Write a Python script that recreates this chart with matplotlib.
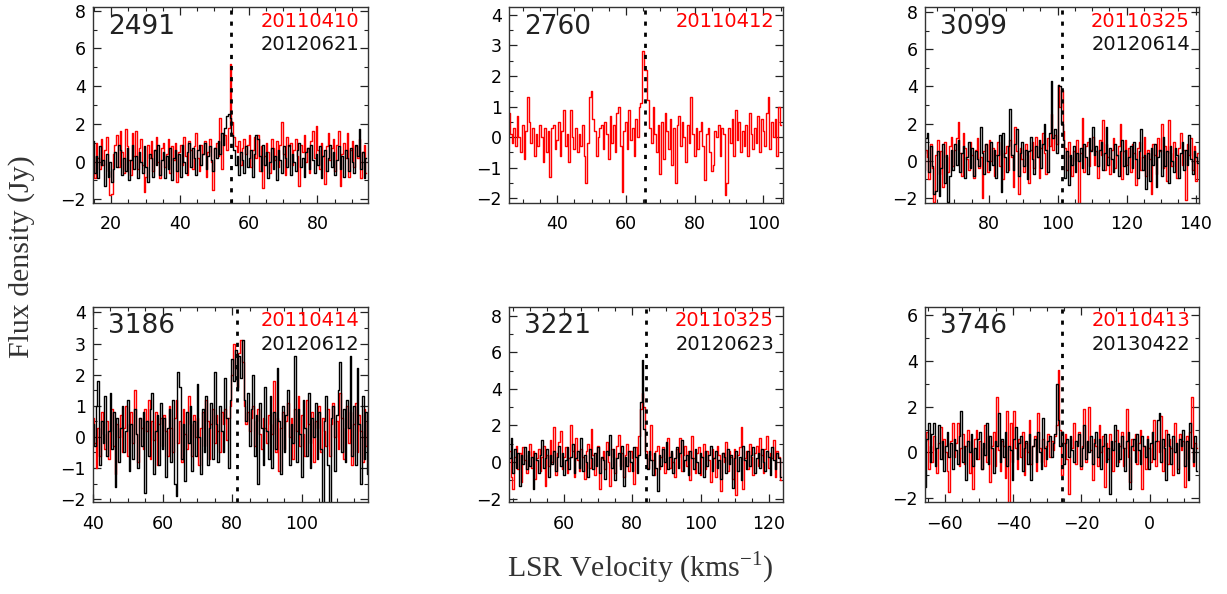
import numpy as np
import matplotlib
matplotlib.use("Agg")
import matplotlib.pyplot as plt
from matplotlib.ticker import MultipleLocator

# ---------------- data ----------------
names = ["2491", "2760", "3099", "3186", "3221", "3746"]
dates_red = ["20110410", "20110412", "20110325", "20110414", "20110325", "20110413"]
dates_black = ["20120621", None, "20120614", "20120612", "20120623", "20130422"]
v_start = [14.7, 25.5, 61.2, 40.0, 44.0, -65.7]
v_step = 0.5
v_peak = [54.7, 65.5, 101.2, 81.5, 84.1, -25.7]
xlims = [(14.7, 94.7), (26.0, 105.7), (61.5, 141.0), (40.0, 119.0), (43.8, 124.2), (-65.8, 14.4)]
ylims = [(-2.2, 8.2), (-2.15, 4.25), (-2.27, 8.27), (-2.1, 4.19), (-2.2, 8.5), (-2.17, 6.36)]
ymajor = [2, 1, 2, 1, 2, 2]

red1 = [0.3, -0.9, 1.0, 0.2, -0.4, 1.2, -0.2, 0.6, 1.3, -0.5,
        -1.8, -1.7, 0.4, 0.9, 1.4, -0.3, 1.6, 0.5, -0.6, 1.7,
        0.8, 0.1, -0.7, 1.5, 0.3, 1.6, -0.4, 0.7, 1.2, -0.2,
        -1.6, -0.8, 0.9, 0.2, 1.1, -0.5, 0.6, 1.3, 0.0, -0.9,
        0.7, 1.0, -0.3, 0.4, 1.2, -0.6, 0.8, 0.1, 1.0, -1.1,
        0.5, 0.9, -0.2, 1.3, 0.3, -0.7, 1.1, 0.6, -0.4, 0.8,
        1.5, 0.2, -0.5, 0.9, 0.4, 1.1, -0.8, 0.5, 1.2, 0.0,
        -1.5, 0.7, 1.0, 0.3, 2.3, -0.4, 0.9, 1.4, 0.6, 1.8,
        5.2, 2.1, 1.3, 0.8, 0.5, 1.1, -0.2, 0.7, 1.2, 0.4,
        0.9, 1.4, -0.3, 0.6, 1.3, 0.2, 1.4, -0.5, 0.8, -1.4,
        0.3, 1.0, 0.5, -0.6, 1.2, 0.7, 0.1, 1.1, -0.3, 0.9,
        2.1, 0.4, -0.7, 1.3, 0.8, 1.0, -0.2, 0.6, 1.2, 0.3,
        -1.3, 0.9, 0.5, 1.4, 0.0, 0.7, -0.6, 1.1, 1.6, 0.2,
        1.9, 0.6, -0.4, 1.0, 0.3, -1.2, 0.8, 1.5, 0.1, 0.7,
        1.2, -0.5, 0.9, 1.6, -1.3, 0.4, 1.0, 0.2, 1.5, -0.8,
        0.6, 1.1, -0.3, 0.8, 0.2, 1.2, -0.9, 0.5, 0.9, -0.6]
black1 = [1.1, -0.6, 0.3, -0.9, 0.8, -0.2, 0.1, -1.3, 0.4, -0.8,
          0.0, -1.1, -0.4, 0.5, -0.3, 0.9, 0.6, -0.7, 0.2, -0.5,
          0.7, -1.0, 0.1, 0.9, -0.4, 0.3, -0.9, 0.5, 0.0, -0.6,
          0.8, -0.3, -1.1, 0.4, 0.2, -0.8, 0.6, -0.2, 0.9, -0.7,
          0.1, 0.5, -0.9, 0.3, -0.4, 0.7, -1.0, 0.2, 0.6, -0.5,
          0.4, -0.8, 0.9, 0.0, -0.6, 0.5, 1.0, -0.3, 0.7, 0.2,
          -0.7, 0.6, 0.9, -0.2, 0.4, 1.0, -0.4, 0.3, 0.8, 0.1,
          -0.5, 0.7, 0.2, 1.1, 0.4, 1.5, 0.9, 1.8, 2.4, 2.5,
          2.3, 1.4, 0.6, -0.2, 0.3, -0.7, 0.5, 0.1, -0.6, 0.8,
          -0.3, 0.2, 0.6, -0.8, 0.4, 1.4, 1.2, 0.3, -0.5, 0.9,
          -0.2, 0.5, -0.9, 0.0, 0.7, -0.4, 0.3, -1.0, 0.6, 0.1,
          -0.6, 0.8, 0.2, -0.3, 0.9, -0.7, 0.4, 0.0, -0.5, 0.6,
          1.0, -0.3, 0.2, -0.8, 0.5, 0.7, -0.4, 0.9, 0.1, -0.6,
          0.4, -0.2, 0.8, -0.9, 0.3, 0.6, -0.5, 0.2, 0.9, -0.3,
          0.5, -0.7, 0.1, 0.8, -0.4, 0.3, -0.8, 0.6, 0.2, -0.5,
          0.7, 0.0, -0.6, 0.9, 0.3, 1.7, -0.4, 0.5, -0.9, 0.2]

red2 = [-0.4, 0.8, 0.1, -0.2, 0.3, -0.3, 0.7, 0.0, -0.5, 0.4,
        -0.7, 0.2, 1.3, 0.5, -0.2, 0.3, -0.6, 0.1, -0.3, 0.4,
        0.0, -0.8, 0.3, -0.5, 0.2, -1.3, 0.3, 0.4, -0.4, -0.1,
        0.5, -0.6, 0.2, 0.9, -0.3, 0.1, -0.8, 0.9, 0.0, -0.4,
        0.3, -0.5, 0.1, -0.3, 0.4, -0.6, -1.5, -0.2, 1.3, 1.5,
        0.6, 0.2, -0.6, 0.0, 0.3, 0.4, -0.4, 0.5, 0.1, -0.7,
        0.7, -0.2, 0.4, -0.5, 0.8, 1.0, -0.3, -1.8, 0.2, 0.5,
        -0.4, 0.9, -0.1, 0.3, -0.6, 0.6, 0.0, 1.0, 1.1, 2.8,
        2.2, 2.2, 1.2, 0.3, -0.2, 1.0, 0.1, -0.5, 0.4, -1.2,
        0.5, -0.7, 0.8, 0.2, -0.4, 0.6, -0.9, 0.3, -1.5, 0.4,
        0.7, -0.3, 0.5, 0.0, -0.8, 0.4, -0.2, 1.3, 0.1, -0.6,
        0.3, -0.4, 0.2, 0.5, -0.3, -1.4, 0.1, 0.3, -0.5, -1.1,
        -0.9, 0.2, 0.0, 0.4, -0.6, 0.3, 0.1, -1.9, -1.5, 0.3,
        -0.2, 0.6, -0.6, 0.9, -0.1, 0.5, -0.5, 0.2, -0.3, 0.4,
        -0.6, 0.8, 0.1, -0.4, 0.3, -0.2, 0.7, -0.5, 0.6, 0.2,
        -0.3, 0.8, 1.3, -0.4, 0.5, 0.0, 0.6, -0.6, 1.0, 0.4]
black2 = None

red3 = [-0.5, 0.6, 0.2, -1.0, 0.9, -0.4, -2.2, 0.3, 1.1, -0.7,
        0.5, -1.4, 1.0, 0.2, -0.6, 0.8, 1.3, -0.3, 0.6, 1.2,
        2.1, 0.4, -0.8, 1.5, 0.7, 0.1, -0.5, 1.0, 0.3, -0.9,
        0.6, 1.2, -0.4, 0.2, -2.0, 0.5, 0.9, -0.6, 1.1, 0.0,
        0.7, -0.8, 0.3, 1.0, -0.3, 0.6, -1.0, 0.4, 0.8, -0.5,
        1.1, 0.2, -1.4, 1.8, 0.5, -1.8, 0.7, 0.1, -0.6, 0.9,
        0.3, -1.2, 0.6, 1.0, -0.4, 1.3, 0.2, -0.9, 0.7, 1.5,
        0.4, -0.7, 1.2, 0.8, 2.5, 0.6, 1.4, 0.9, 4.1, 2.9,
        3.8, 1.6, 0.7, -0.5, 1.0, 0.2, -0.8, 0.5, 0.0, 1.1,
        -2.3, 0.4, 2.3, -0.6, 0.8, 1.0, -0.3, 0.6, 1.3, -0.2,
        0.5, -0.9, 1.1, 0.3, 2.2, -0.5, 0.9, 0.2, -0.7, 0.6,
        1.2, -0.4, 0.3, 0.8, 2.0, -1.0, 0.5, 1.1, -0.2, 0.7,
        -0.6, 0.9, 0.4, -1.3, 0.7, 1.0, -0.5, 0.2, 1.3, -0.8,
        0.6, 0.1, -1.8, 0.9, 0.3, -0.7, 1.2, 0.5, 2.0, -0.4,
        0.8, -1.1, 2.2, 0.4, -0.3, 1.0, 0.2, -0.9, 0.7, 1.5,
        -0.2, 0.6, -2.1, 0.9, 0.3, 1.2, -0.5, 0.8, -1.1, 0.4]
black3 = [0.4, 1.2, 1.5, -0.6, 0.8, -0.3, -1.8, -1.6, 0.5, -1.9,
          -0.4, 0.9, -1.2, 0.3, -2.2, -0.8, 0.6, -0.5, 0.9, -0.2,
          1.1, -0.6, 0.4, 0.8, -0.9, 0.2, 1.0, -0.4, 0.7, -0.8,
          0.5, 0.1, -0.3, 1.8, 0.4, -0.7, 0.9, 0.0, -0.5, 1.0,
          -0.2, 0.6, -0.9, 0.3, 1.4, -1.7, 1.5, 0.2, -0.6, 0.8,
          2.8, 0.3, -0.5, 0.9, 1.7, -0.8, 0.4, 1.0, -0.3, 0.6,
          -1.0, 0.5, 1.3, 0.1, -0.7, 0.8, 0.2, 1.1, -0.4, 0.9,
          2.0, 0.6, -0.6, 1.5, 4.3, 1.2, 1.7, 0.4, 4.1, 4.0,
          2.0, 1.1, -0.9, 0.5, -1.3, 0.3, -0.2, 0.8, -0.6, 0.4,
          0.0, 0.7, -0.4, 0.9, 0.2, -0.7, 1.2, 0.5, 1.8, 0.3,
          0.8, -0.3, 0.6, 1.0, -0.5, 0.4, 1.8, -0.2, 0.7, 0.1,
          -0.6, 0.9, 0.3, -0.8, 0.5, 1.1, -0.3, 0.6, -0.7, 0.2,
          0.8, -0.4, 1.0, 0.1, -0.9, 0.5, 1.7, -0.5, 0.3, -1.5,
          0.4, -1.1, 0.7, -0.2, 0.9, -1.4, 0.2, 0.6, -0.8, 1.3,
          -0.3, 0.5, -1.2, 0.8, 0.0, -0.6, 0.7, 0.3, -0.9, 0.4,
          1.0, -0.5, 0.6, -0.2, 1.4, 0.1, -0.7, 0.5, 0.2, -0.1]

red4 = [0.6, -0.2, -1.0, 0.3, -0.6, 0.8, 0.1, -0.4, 0.5, -0.7,
        0.2, 0.9, -0.3, -1.2, 0.4, 0.0, 0.7, -0.5, 0.3, 1.0,
        -0.6, 0.4, 0.8, -0.2, 1.5, 0.1, -0.8, 0.6, 0.3, -0.4,
        0.9, 0.2, 1.2, -0.7, 0.5, -0.1, 0.8, -0.9, 0.4, 0.6,
        -0.3, 0.7, 0.2, -0.6, 1.0, 0.3, -0.5, 0.6, 1.2, -0.2,
        0.5, -0.8, 0.9, 0.1, -0.4, 1.3, 0.4, -0.6, 0.7, 0.0,
        0.6, -0.9, 0.3, 0.8, -0.3, 1.2, 0.5, -0.7, 0.4, 0.9,
        -0.2, 0.7, 0.2, -0.5, 0.8, 0.4, 0.9, -0.1, 0.6, 1.0,
        2.0, 3.0, 2.2, 1.6, 2.7, 3.1, 2.4, 1.0, 0.4, 0.8,
        0.2, 0.6, 1.0, -0.3, 0.5, 0.9, 0.1, -0.4, 0.6, 0.3,
        -0.2, 0.7, 0.4, 0.1, 1.8, -0.5, 0.6, -1.1, 0.3, 0.8,
        -0.4, 0.5, 1.1, 0.0, 0.6, -0.7, 0.9, 0.2, 1.3, -0.3,
        0.7, 0.1, -0.6, 1.2, 0.4, -0.2, 0.8, -0.8, 0.5, 0.3,
        1.0, -0.5, 0.6, 0.2, -0.3, 0.9, -0.6, 0.4, 1.1, 0.0,
        0.5, -0.4, 1.4, 0.6, -0.7, 0.3, 1.0, -0.2, 0.8, -0.9,
        0.4, 1.1, -0.5, 0.7, 0.2, -0.8, 0.9, -0.3, 0.5, -1.3]
black4 = [0.4, -0.3, 1.0, 1.8, -0.9, 0.5, -0.2, 1.3, -0.6, 0.2,
          1.4, -0.4, 0.8, -1.6, 0.6, -0.8, 0.3, 1.0, -0.5, 0.2,
          1.2, -1.1, 0.4, -0.7, 0.9, 0.1, -1.0, 0.6, -0.3, 0.8,
          -1.8, 0.5, -0.6, 0.9, 1.4, -1.2, 0.2, 0.7, -0.9, 1.1,
          -0.4, 0.6, -1.3, 0.3, 0.9, -0.8, 1.2, -1.5, -1.9, 2.1,
          1.6, -0.7, 0.4, -1.4, 0.8, -0.2, 1.0, -1.1, 0.5, -0.6,
          1.7, 0.0, -1.2, 0.9, -0.5, 1.3, -0.9, 0.3, 1.1, -0.7,
          2.1, 0.4, -0.8, 1.0, 0.2, -0.5, 1.9, 0.6, -1.0, 1.2,
          2.5, 1.8, 2.8, 1.5, 2.6, 1.9, 3.1, 1.2, 0.5, 1.4,
          -0.3, 0.9, 2.0, -0.6, 0.7, -1.5, 1.1, 0.3, -0.9, 1.6,
          0.2, -0.7, 1.3, -1.0, 0.8, -0.4, 2.2, 0.5, -1.2, 1.0,
          -0.5, 0.7, 1.5, -0.9, 0.4, -0.2, 2.6, -0.8, 0.9, 0.1,
          -1.3, 1.2, 0.3, -0.6, 1.4, -1.0, 0.6, 0.0, 1.1, -0.7,
          0.8, -0.4, -2.2, 0.5, 1.3, -0.9, -2.2, 0.6, 1.0, -1.1,
          0.7, 1.5, 2.4, -0.5, 0.9, -0.8, 1.2, 0.3, 2.6, -0.6,
          1.0, -0.9, 2.2, 0.4, -1.5, 1.3, -0.7, 0.8, -1.2, 0.9]

red5 = [0.6, -0.8, -1.5, 0.3, 0.9, -0.4, 0.5, -1.1, 0.8, 0.1,
        -0.6, 0.4, 1.0, -0.3, 0.6, -0.9, 0.2, 0.7, -0.5, 0.3,
        0.9, -1.3, 0.4, -0.2, 1.2, 0.0, 1.9, -0.7, 0.5, 1.1,
        1.7, -0.4, 0.3, 0.8, -0.6, 0.2, 2.0, 0.6, -0.8, 1.3,
        0.1, -0.5, 0.7, 0.3, -0.9, 0.6, 1.0, -0.3, 1.8, 0.4,
        -0.7, 0.5, 0.9, -1.5, 0.2, 0.6, -0.4, 1.1, 0.0, -1.3,
        0.7, 0.3, -0.6, 0.9, 1.5, -0.2, 0.5, -0.8, 0.4, 1.0,
        -0.5, 0.6, 0.2, -1.2, 0.8, 0.3, 1.4, 2.9, 3.8, 3.0,
        0.6, -0.3, 0.4, 2.0, 0.1, -0.7, 0.6, 0.9, -0.4, 0.3,
        0.8, -0.6, 0.2, 1.3, -0.3, 0.5, 0.0, -0.8, 0.7, 0.3,
        1.3, -0.5, 0.4, 0.9, -0.2, 0.6, -1.0, 1.4, 0.2, -0.6,
        0.5, 0.8, -0.7, 0.3, 1.0, -0.4, 0.6, 0.1, -1.1, 0.7,
        0.2, -0.8, 0.9, 0.4, -1.6, 0.5, 0.0, 1.1, -0.5, 0.6,
        0.3, -0.9, 0.7, -1.8, 0.4, 0.8, 1.9, -1.5, 0.2, 0.6,
        -0.4, 1.0, 0.3, -0.7, 0.5, 0.9, -0.2, 1.3, 0.4, -0.6,
        0.7, 1.4, -0.3, 0.5, 0.2, 1.2, -0.8, 0.6, 0.3, -1.0]
black5 = [0.2, 1.3, -0.6, 0.7, -0.3, 0.5, -1.3, 0.4, -0.1, 0.8,
          -0.4, 0.6, -0.2, 0.3, -1.5, 0.5, 0.1, -0.6, 0.4, 1.2,
          -0.3, 0.2, 0.7, -0.8, 0.4, -0.1, 0.6, -0.5, 0.3, 0.9,
          -0.2, 0.5, -0.7, 0.1, 0.8, -0.4, 0.3, 1.0, -0.6, 0.2,
          0.6, -0.3, 1.3, -0.5, 0.4, 0.0, -0.8, 0.7, 0.2, -0.4,
          0.5, -0.2, 0.8, -0.6, 0.3, 0.1, -0.9, 0.6, 0.4, 1.5,
          -0.3, 0.7, -1.0, 0.2, 0.5, -0.4, 0.9, -1.3, 0.3, -0.2,
          0.6, 0.0, -0.5, 0.8, 0.3, -0.6, 0.4, 3.3, 5.6, 1.8,
          0.2, -0.4, 0.6, 0.1, -0.7, 0.5, -0.3, -1.6, 0.4, -0.2,
          0.7, 0.0, 1.1, -0.4, 0.3, 0.6, -0.6, 0.2, 0.8, -0.3,
          0.5, 1.2, -0.5, 0.1, 0.4, -0.7, 0.6, 0.2, -0.4, 0.7,
          0.0, -0.6, 0.5, 0.3, -0.8, 0.6, -0.2, 0.4, 0.9, -0.5,
          0.2, 0.6, -0.3, 0.1, -0.9, 0.5, 0.3, -0.6, 0.7, -0.1,
          0.4, -1.4, 0.2, 0.6, -0.5, 0.3, -1.0, 0.9, 0.1, -0.4,
          0.6, -0.2, 0.4, 0.8, -0.6, 0.2, 0.5, -0.3, 0.7, 0.0,
          -0.5, 0.6, 0.3, -0.7, 0.8, 0.1, -0.4, 0.5, 0.2, -0.8]

red6 = [0.5, 0.9, -0.7, 0.3, -0.4, 0.7, 0.1, -0.9, 0.4, 1.1,
        -0.3, 0.6, 0.0, -0.8, -1.7, 0.5, 1.3, -0.2, 0.4, 1.3,
        -0.6, 0.2, 0.8, -0.5, 0.3, 1.0, -0.9, 0.1, -1.6, 0.6,
        1.0, -0.3, 0.5, -0.7, 0.2, 1.2, -0.4, 0.7, -1.3, 0.3,
        0.9, -0.6, 2.4, 0.1, -0.8, 0.5, 0.3, -1.1, 1.8, -2.2,
        1.3, -0.4, 1.8, 0.2, -0.7, 0.6, -0.2, 0.9, -1.0, 0.4,
        0.0, 1.4, -0.5, 0.3, 0.7, -0.8, 1.7, 0.2, -0.4, 0.6,
        -0.6, 0.3, 0.8, -0.2, 0.5, 0.1, 0.7, 1.2, 3.6, 1.0,
        -1.0, 0.4, 0.8, -0.3, -1.8, 0.6, 0.2, 1.3, -0.5, 0.4,
        0.9, -0.7, 0.3, 1.9, -0.4, 0.5, 2.0, 0.1, -1.2, 0.6,
        0.3, -0.6, 1.2, 0.0, 0.7, -1.5, 0.4, -0.3, 0.8, 0.2,
        -0.8, 0.5, 1.0, -0.4, 0.3, 0.9, -0.6, 0.2, 1.9, -0.2,
        -1.3, 0.6, 0.1, 0.8, -0.5, 0.4, 1.0, -1.6, 0.3, -0.7,
        0.7, 0.2, -0.4, 0.9, 1.4, -0.6, 0.5, 0.0, 1.6, -0.8,
        0.3, 1.0, -0.5, 0.6, 0.2, -1.0, 1.3, 0.4, -0.7, 0.8,
        0.1, 0.5, -1.5, 0.7, -0.3, 0.9, 2.4, -0.6, 0.4, 0.2]
black6 = [-1.5, 0.6, 1.3, -0.4, 0.8, 1.3, -0.6, 0.2, 1.2, -0.3,
          0.5, -0.8, 0.3, 0.9, -0.2, 0.4, -0.7, 0.6, 0.1, -0.5,
          0.7, 1.8, -0.4, 0.3, -1.2, 0.5, 0.0, 0.8, -0.6, 0.2,
          -0.3, 0.6, 0.9, -0.7, 0.4, -0.1, 1.3, -0.5, 0.7, 0.2,
          -0.9, 0.5, 0.3, 1.7, -0.4, 0.6, -0.2, 0.9, -0.6, 0.3,
          0.1, -1.2, 0.6, 1.1, -0.3, 0.4, 0.7, -0.8, 0.2, 0.5,
          -0.5, 0.8, -1.2, 0.3, 0.6, -0.4, 0.9, 0.0, -0.7, 1.5,
          0.2, -0.3, 0.5, 0.7, -0.2, 0.4, 0.8, 3.0, 1.4, 0.3,
          0.9, -0.5, 0.4, 0.6, -0.2, 0.7, 0.1, -0.4, 0.5, 0.3,
          0.8, -0.6, 0.2, 1.2, -0.3, 0.5, 0.0, 0.7, -0.5, 0.4,
          0.9, -0.2, 0.6, -0.7, 0.3, 0.8, -0.4, 0.2, -1.8, 0.5,
          0.1, 1.2, -0.6, 0.4, -0.3, 0.7, 0.2, -0.8, 0.5, 0.9,
          -1.6, 0.3, 0.6, -0.4, 0.8, 0.1, -0.5, 0.7, 0.3, -0.2,
          0.6, -0.7, 0.4, 0.9, -0.3, 0.5, 1.4, 1.7, -0.4, 0.6,
          0.2, -1.2, 0.8, 0.3, -0.5, 0.7, 0.0, 0.4, -0.9, 0.6,
          0.3, 1.0, -0.6, 0.5, -1.2, 1.3, 0.2, -0.4, 0.7, -0.8]

reds = [red1, red2, red3, red4, red5, red6]
blacks = [black1, black2, black3, black4, black5, black6]

# ---------------- figure ----------------
fig = plt.figure(figsize=(12.27, 5.94), dpi=100)
W, H = 1227.0, 594.0
col_px = [(93, 368), (509, 783), (925, 1199)]
row_px = [(7, 203), (306.5, 502.3)]

RED = "#ff0000"
tickfont = "DejaVu Sans"

for k in range(6):
    r, c = divmod(k, 3)
    x0, x1 = col_px[c]
    y0, y1 = row_px[r]
    ax = fig.add_axes([x0 / W, 1 - y1 / H, (x1 - x0) / W, (y1 - y0) / H])

    yr = np.array(reds[k])
    vr = v_start[k] + v_step * np.arange(len(yr))
    ax.plot(vr, yr, color=RED, lw=1.0, drawstyle="steps-mid")
    if blacks[k] is not None:
        yb = np.array(blacks[k])
        vb = v_start[k] + v_step * np.arange(len(yb))
        ax.plot(vb, yb, color="black", lw=1.0, drawstyle="steps-mid")

    ax.axvline(v_peak[k], color="black", lw=2.0, linestyle=(0, (1.5, 2.5)))

    ax.set_xlim(*xlims[k])
    ax.set_ylim(*ylims[k])
    ax.xaxis.set_major_locator(MultipleLocator(20))
    ax.xaxis.set_minor_locator(MultipleLocator(5))
    ax.yaxis.set_major_locator(MultipleLocator(ymajor[k]))
    ax.yaxis.set_minor_locator(MultipleLocator(ymajor[k] / 2.0))
    ax.tick_params(which="both", direction="in", top=True, right=True,
                   color="#222222")
    ax.tick_params(which="major", length=6, width=0.9)
    ax.tick_params(which="minor", length=3, width=0.8)
    ax.tick_params(axis="x", pad=9, labelsize=12.5)
    ax.tick_params(axis="y", pad=5, labelsize=12.5)
    for lab in ax.get_xticklabels() + ax.get_yticklabels():
        lab.set_fontfamily(tickfont)
    for sp in ax.spines.values():
        sp.set_linewidth(1.0)
        sp.set_color("#333333")

    ax.text(0.055, 0.898, names[k], transform=ax.transAxes, ha="left",
            va="center", fontsize=19, family=tickfont, color="#222222")
    ax.text(0.967, 0.926, dates_red[k], transform=ax.transAxes, ha="right",
            va="center", fontsize=14, family=tickfont, color=RED)
    if dates_black[k] is not None:
        ax.text(0.967, 0.808, dates_black[k], transform=ax.transAxes,
                ha="right", va="center", fontsize=14, family=tickfont,
                color="#111111")

fig.text(22 / W, 1 - 257 / H, "Flux density (Jy)", rotation=90, ha="center",
         va="center", fontsize=21.5, family="Liberation Serif", color="#333333")
fig.text(640 / W, 1 - 568 / H, r"LSR Velocity (kms$^{\mathregular{-1}}$)",
         ha="center", va="center", fontsize=21.5, family="Liberation Serif",
         color="#333333")

fig.savefig("out.png", dpi=100)
